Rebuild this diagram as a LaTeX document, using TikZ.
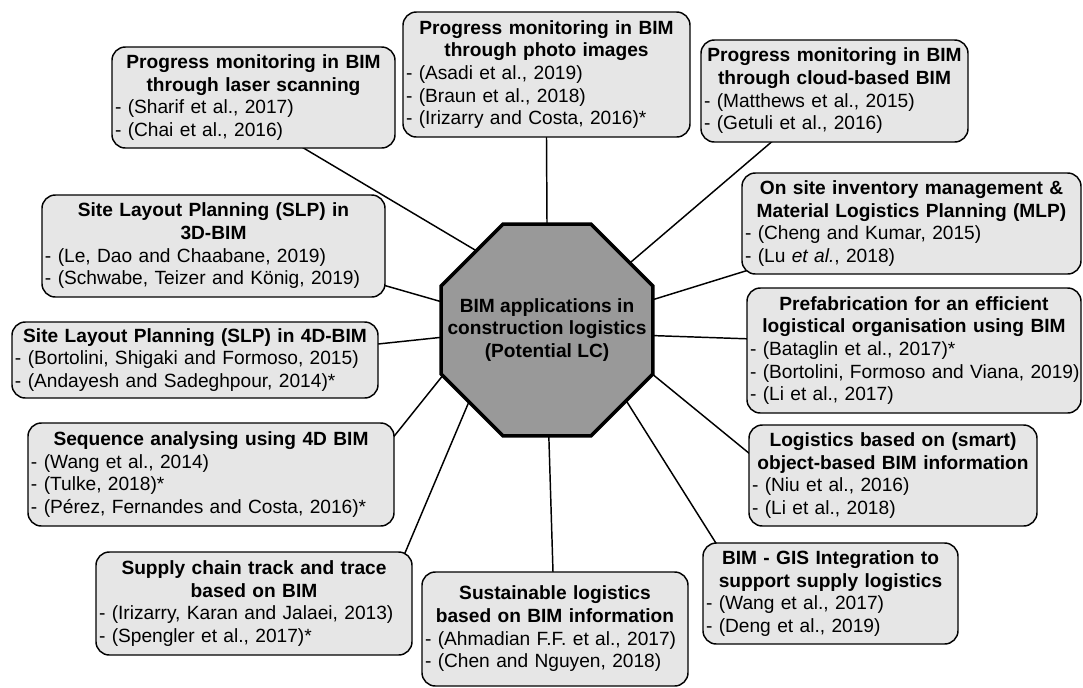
\documentclass[tikz,border=0pt]{standalone}
\usepackage{fontspec}
\setmainfont{Liberation Sans}
\usetikzlibrary{shapes.geometric}
\pgfdeclarelayer{background}
\pgfsetlayers{background,main}
\definecolor{boxgray}{HTML}{E6E6E6}
\definecolor{hubgray}{HTML}{999999}
\setlength{\parindent}{0pt}
\setlength{\parskip}{0pt}
% one reference line and a centred bold heading inside a topic box
\newcommand\cit[1]{\mbox{- (#1)}}
\newcommand\ttl[1]{{\centering\bfseries #1\par}}

\begin{document}
\begin{tikzpicture}[x=0.75pt,y=-0.75pt,
  txt/.style={font=\fontsize{14.36}{17}\selectfont},
  topic/.style={txt, draw=black, line width=1.1pt, fill=boxgray,
    rounded corners=10pt, inner xsep=2.25pt, inner ysep=0pt, align=left},
  bsize/.code 2 args={%
    \pgfmathsetlengthmacro\bxw{#1*0.75pt}%
    \pgfmathsetlengthmacro\bxt{(#1-6)*0.75pt}%
    \pgfmathsetlengthmacro\bxh{#2*0.75pt}%
    \pgfkeysalso{/tikz/minimum width=\bxw,/tikz/minimum height=\bxh,/tikz/text width=\bxt}},
  hub/.style={regular polygon, regular polygon sides=8, minimum size=172pt,
    inner sep=0pt, draw=black, line width=2.6pt, fill=hubgray},
  link/.style={line width=1.1pt, shorten <=-5pt, shorten >=-6pt}]

\useasboundingbox (0,0) rectangle (1083,687);

% central hub
\node[hub] (hub) at (547,330) {};
\node[txt, font=\fontsize{14.36}{17}\selectfont\bfseries, align=center] (hubtext) at (hub)
  {BIM applications in\\construction logistics\\(Potential LC)};

% topic boxes
\node[topic, bsize={283}{101}] (b1) at (253.5,97.5)
  {\ttl{Progress monitoring in BIM\\through laser scanning}\cit{Sharif et al., 2017}\\\cit{Chai et al., 2016}};
\node[topic, bsize={287}{125}] (b2) at (546.5,74.5)
  {\ttl{Progress monitoring in BIM\\through photo images}\cit{Asadi et al., 2019}\\\cit{Braun et al., 2018}\\\cit{Irizarry and Costa, 2016}*};
\node[topic, bsize={267}{102}] (b3) at (834.5,91)
  {\ttl{Progress monitoring in BIM\\through cloud-based BIM}\cit{Matthews et al., 2015}\\\cit{Getuli et al., 2016}};
\node[topic, bsize={339}{101}] (b4) at (911.5,223.5)
  {\ttl{On site inventory management \&\\Material Logistics Planning (MLP)}\cit{Cheng and Kumar, 2015}\\\cit{Lu \textit{et al.}, 2018}};
\node[topic, bsize={334}{125}] (b5) at (914,350.5)
  {\ttl{Prefabrication for an efficient\\logistical organisation using BIM}\cit{Bataglin et al., 2017}*\\\cit{Bortolini, Formoso and Viana, 2019}\\\cit{Li et al., 2017}};
\node[topic, bsize={288}{101}] (b6) at (893,475.5)
  {\ttl{Logistics based on (smart)\\object-based BIM information}\cit{Niu et al., 2016}\\\cit{Li et al., 2018}};
\node[topic, bsize={255}{101}] (b7) at (830.5,593.5)
  {\ttl{BIM - GIS Integration to\\support supply logistics}\cit{Wang et al., 2017}\\\cit{Deng et al., 2019}};
\node[topic, bsize={266}{114}] (b8) at (555,629)
  {\ttl{Sustainable logistics\\based on BIM information}\cit{Ahmadian F.F. et al., 2017}\\\cit{Chen and Nguyen, 2018}};
\node[topic, bsize={316}{103}] (b9) at (254,603.5)
  {\ttl{Supply chain track and trace\\based on BIM}\cit{Irizarry, Karan and Jalaei, 2013}\\\cit{Spengler et al., 2017}*};
\node[topic, bsize={366}{103}] (b10) at (211,474.5)
  {\ttl{Sequence analysing using 4D BIM}\cit{Wang et al., 2014}\\\cit{Tulke, 2018}*\\\cit{Pérez, Fernandes and Costa, 2016}*};
\node[topic, bsize={366}{76}] (b11) at (195,360)
  {\ttl{Site Layout Planning (SLP) in 4D-BIM}\cit{Bortolini, Shigaki and Formoso, 2015}\\\cit{Andayesh and Sadeghpour, 2014}*};
\node[topic, bsize={343}{102}] (b12) at (213.5,246)
  {\ttl{Site Layout Planning (SLP) in\\3D-BIM}\cit{Le, Dao and Chaabane, 2019}\\\cit{Schwabe, Teizer and König, 2019}};

% spokes from the hub to every topic, kept behind the shapes
\begin{pgfonlayer}{background}
\draw[link] (hub.132.4) -- (b1.-45.6);
\draw[link] (hub.90)    -- (b2.south);
\draw[link] (hub.39.9)  -- (b3.219.2);
\draw[link] (hub.16.8)  -- (b4.196.4);
\draw[link] (hub.-3.2)  -- (b5.176.4);
\draw[link] (hub.-23.9) -- (b6.171.1);
\draw[link] (hub.-42.8) -- (b7.156.6);
\draw[link] (hub.271.6) -- (b8.92);
\draw[link] (hub.223.2) -- (b9.19.7);
\draw[link] (hub.204)   -- (b10.12.8);
\draw[link] (hub.184.3) -- (b11.5.3);
\draw[link] (hub.165.2) -- (b12.-13.8);
\end{pgfonlayer}
\end{tikzpicture}
\end{document}
